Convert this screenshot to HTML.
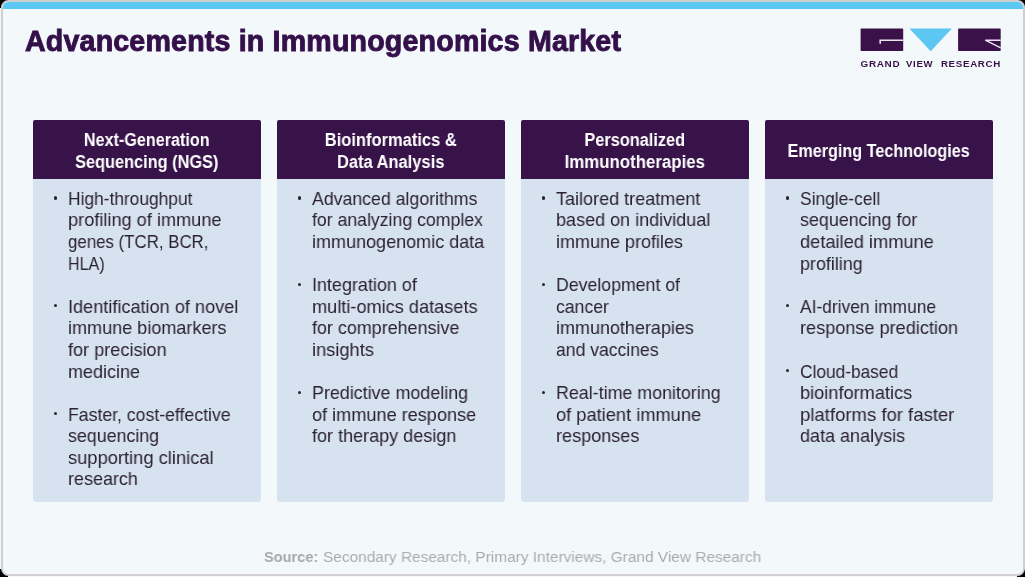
<!DOCTYPE html>
<html><head><meta charset="utf-8">
<style>
*{margin:0;padding:0;box-sizing:border-box}
html,body{width:1025px;height:577px;overflow:hidden;-webkit-font-smoothing:antialiased;background:#f4f8fb;font-family:"Liberation Sans",sans-serif}
#frame{position:absolute;left:1px;top:0;width:1024px;height:576px;border:2px solid #cfcfcf;border-radius:7.5px;background:#f3f8fb;overflow:hidden}
.cn{position:absolute;width:8px;height:8px;background:#000}
#stripe{position:absolute;left:0;top:0;right:0;height:6.6px;background:#5bc7f3}
.title{position:absolute;left:24.5px;top:24.8px;font-weight:bold;font-size:28.6px;color:#34104a;white-space:nowrap;letter-spacing:0.18px;-webkit-text-stroke:0.9px #34104a;will-change:transform}
.card{position:absolute;top:120.3px;width:227.4px;height:381.4px}
.hd{position:absolute;left:0;top:0;width:100%;height:58.3px;background:#381349;border-radius:2px 2px 0 0;color:#fff;text-align:center;font-weight:bold;font-size:18px;line-height:21.9px}
.ht{position:absolute;left:0;right:0;top:10px}
.ht.one{top:20.5px}
.ht span{display:block;transform-origin:50% 0;white-space:nowrap;will-change:transform}
.bd{position:absolute;left:0;top:58.3px;width:100%;height:323.1px;background:#d7e2f1;border-radius:0 0 3px 3px}
.txt{position:absolute;left:35px;top:9.3px;color:#2b2231;font-size:19px;line-height:21.58px;white-space:nowrap;transform-origin:0 0;transform:scaleX(1)}
.txt p{position:relative;margin-bottom:21.58px}
.txt span{display:block;transform-origin:0 0;will-change:transform}
.txt p:before{content:"";position:absolute;left:-14.5px;top:8.6px;width:3.1px;height:3.1px;border-radius:50%;background:#2b2231}
.src{position:absolute;left:0;top:0;font-size:15.5px;line-height:18px;color:#ababab;white-space:nowrap}
.src b,.src span{position:absolute;top:547.6px;display:block;transform-origin:0 0;will-change:transform}
#s1{left:264.2px;color:#a8a8a8;transform:scaleX(0.94)}
#s2{left:323.2px;transform:scaleX(0.994)}
</style></head><body>
<div class="cn" style="left:0;top:0"></div><div class="cn" style="right:0;top:0"></div><div class="cn" style="left:0;bottom:0"></div><div class="cn" style="right:0;bottom:0"></div>
<div id="frame">
<div id="stripe"></div>
</div>
<svg id="logo" width="1025" height="80" viewBox="0 0 1025 80" style="position:absolute;left:0;top:0;will-change:transform">
<rect x="860.6" y="28.6" width="42.6" height="22.4" rx="0.8" fill="#3a1249"/>
<path d="M903.2 40.2H880.2V43.7" fill="none" stroke="#e9e4ee" stroke-width="1.6"/>
<path d="M909.4 28.6H951.9L930.7 51.3Z" fill="#5bc7f2"/>
<rect x="958.1" y="28.6" width="42.6" height="22.4" rx="0.8" fill="#3a1249"/>
<path d="M1000.7 40.2H985.3L1000.7 47.9" fill="none" stroke="#e9e4ee" stroke-width="1.5"/>
<g fill="#3a1249" font-family="Liberation Sans" font-weight="bold" font-size="8.8" letter-spacing="0.6">
<text x="860.5" y="67.1" textLength="39.8" lengthAdjust="spacingAndGlyphs">GRAND</text>
<text x="906.1" y="67.1" textLength="27" lengthAdjust="spacingAndGlyphs">VIEW</text>
<text x="940.9" y="67.1" textLength="60.1" lengthAdjust="spacingAndGlyphs">RESEARCH</text>
</g>
</svg>
<div class="title">Advancements in Immunogenomics Market</div>
<div class="card" style="left:33.30px">
<div class="hd"><div class="ht two"><span style="transform:scaleX(0.898)">Next-Generation</span><span style="transform:scaleX(0.907)">Sequencing (NGS)</span></div></div>
<div class="bd"><div class="txt">
<p><span style="transform:scaleX(0.913)">High-throughput</span><span style="transform:scaleX(0.956)">profiling of immune</span><span style="transform:scaleX(0.887)">genes (TCR, BCR,</span><span style="transform:scaleX(0.846)">HLA)</span></p>
<p><span style="transform:scaleX(0.954)">Identification of novel</span><span style="transform:scaleX(0.95)">immune biomarkers</span><span style="transform:scaleX(0.953)">for precision</span><span style="transform:scaleX(0.946)">medicine</span></p>
<p><span style="transform:scaleX(0.929)">Faster, cost-effective</span><span style="transform:scaleX(0.938)">sequencing</span><span style="transform:scaleX(0.964)">supporting clinical</span><span style="transform:scaleX(0.946)">research</span></p>
</div></div></div>
<div class="card" style="left:277.25px">
<div class="hd"><div class="ht two"><span style="transform:scaleX(0.917)">Bioinformatics &amp;</span><span style="transform:scaleX(0.915)">Data Analysis</span></div></div>
<div class="bd"><div class="txt">
<p><span style="transform:scaleX(0.932)">Advanced algorithms</span><span style="transform:scaleX(0.93)">for analyzing complex</span><span style="transform:scaleX(0.948)">immunogenomic data</span></p>
<p><span style="transform:scaleX(0.945)">Integration of</span><span style="transform:scaleX(0.956)">multi-omics datasets</span><span style="transform:scaleX(0.943)">for comprehensive</span><span style="transform:scaleX(0.96)">insights</span></p>
<p><span style="transform:scaleX(0.941)">Predictive modeling</span><span style="transform:scaleX(0.954)">of immune response</span><span style="transform:scaleX(0.949)">for therapy design</span></p>
</div></div></div>
<div class="card" style="left:521.20px">
<div class="hd"><div class="ht two"><span style="transform:scaleX(0.907)">Personalized</span><span style="transform:scaleX(0.936)">Immunotherapies</span></div></div>
<div class="bd"><div class="txt">
<p><span style="transform:scaleX(0.949)">Tailored treatment</span><span style="transform:scaleX(0.948)">based on individual</span><span style="transform:scaleX(0.947)">immune profiles</span></p>
<p><span style="transform:scaleX(0.932)">Development of</span><span style="transform:scaleX(0.926)">cancer</span><span style="transform:scaleX(0.946)">immunotherapies</span><span style="transform:scaleX(0.925)">and vaccines</span></p>
<p><span style="transform:scaleX(0.939)">Real-time monitoring</span><span style="transform:scaleX(0.961)">of patient immune</span><span style="transform:scaleX(0.951)">responses</span></p>
</div></div></div>
<div class="card" style="left:765.15px">
<div class="hd"><div class="ht one"><span style="transform:scaleX(0.898)">Emerging Technologies</span></div></div>
<div class="bd"><div class="txt">
<p><span style="transform:scaleX(0.914)">Single-cell</span><span style="transform:scaleX(0.941)">sequencing for</span><span style="transform:scaleX(0.96)">detailed immune</span><span style="transform:scaleX(0.941)">profiling</span></p>
<p><span style="transform:scaleX(0.914)">AI-driven immune</span><span style="transform:scaleX(0.953)">response prediction</span></p>
<p><span style="transform:scaleX(0.911)">Cloud-based</span><span style="transform:scaleX(0.957)">bioinformatics</span><span style="transform:scaleX(0.975)">platforms for faster</span><span style="transform:scaleX(0.947)">data analysis</span></p>
</div></div></div>
<div class="src"><b id="s1">Source:</b><span id="s2">Secondary Research, Primary Interviews, Grand View Research</span></div>
</body></html>
